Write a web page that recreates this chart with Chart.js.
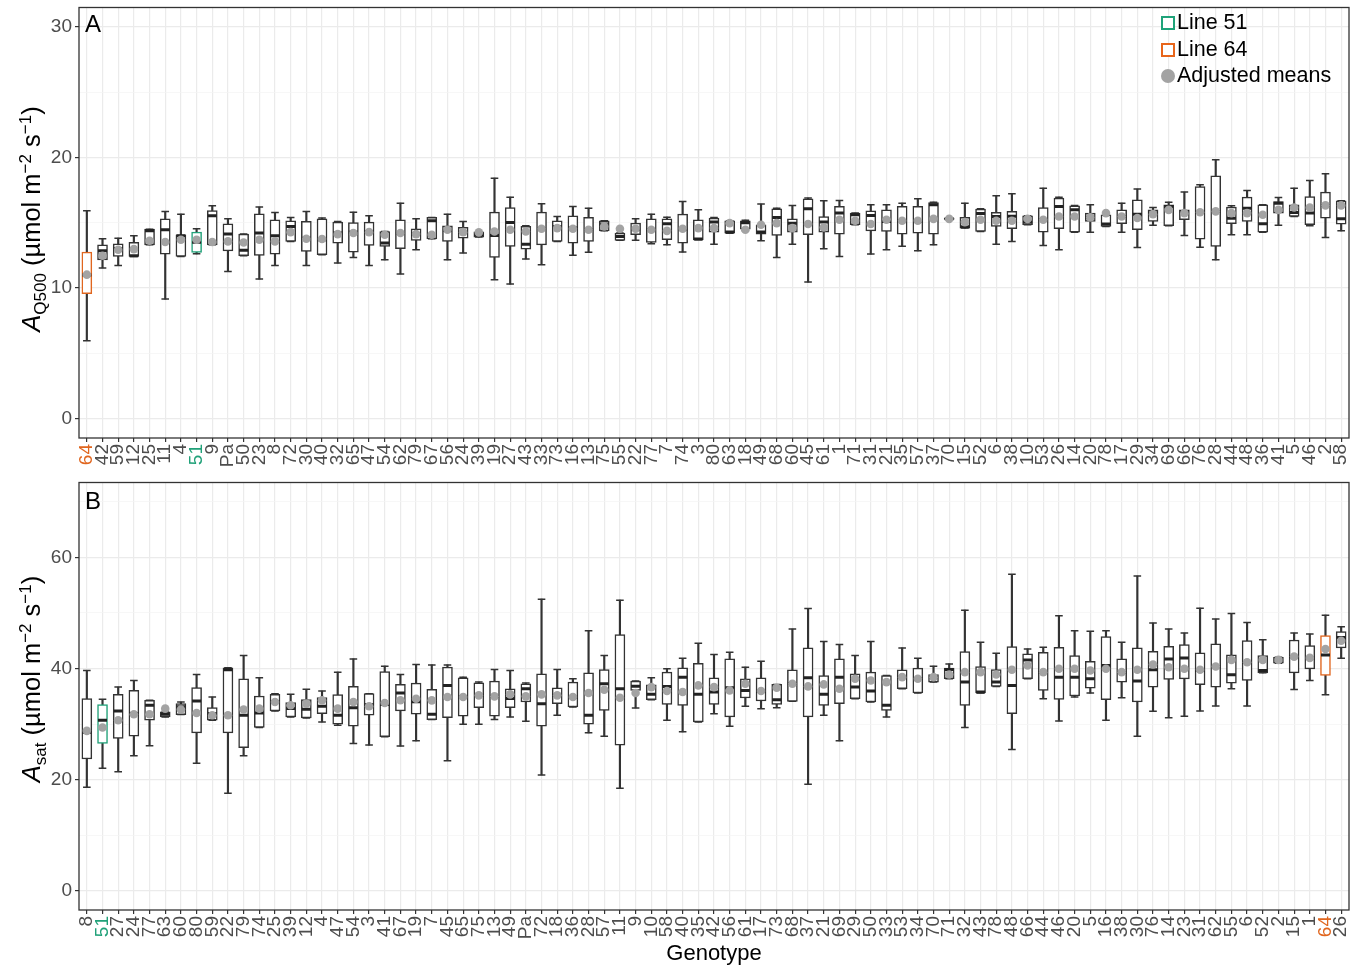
<!DOCTYPE html>
<html><head><meta charset="utf-8">
<script src="https://cdn.jsdelivr.net/npm/chart.js@4.4.1/dist/chart.umd.min.js"></script>
<style>
html,body{margin:0;padding:0;background:#fff;}
#wrap{position:relative;width:1365px;height:967px;overflow:hidden;font-family:'Liberation Sans',Arial,sans-serif;}
canvas{position:absolute;left:0;}
#cA{top:0;}
#cB{top:475px;}
.ytitle{position:absolute;transform:translate(-50%,-50%) rotate(-90deg);white-space:nowrap;font-size:25.5px;color:#000;line-height:1;}
.ytitle sub,.ytitle sup{font-size:17px;line-height:0;}
.tag{position:absolute;font-size:24px;color:#000;line-height:1;}
#legend{position:absolute;left:1161px;top:9px;font-size:21.5px;color:#000;line-height:26.5px;}
#legend .row{position:relative;padding-left:16px;}
#legend .sw{position:absolute;left:0;top:7px;box-sizing:border-box;width:14px;height:14px;background:#fff;border-style:solid;border-width:2px;}
#legend .dot{position:absolute;left:0;top:7px;width:14px;height:14px;border-radius:50%;background:#A3A3A3;}
</style></head>
<body><div id="wrap">
<canvas id="cA" width="1365" height="475"></canvas>
<canvas id="cB" width="1365" height="492"></canvas>
<div class="ytitle" style="left:32px;top:219px;"><i>A</i><sub>Q500</sub> (µmol m<sup>−2</sup> s<sup>−1</sup>)</div>
<div class="ytitle" style="left:32px;top:679px;"><i>A</i><sub>sat</sub> (µmol m<sup>−2</sup> s<sup>−1</sup>)</div>
<div class="tag" style="left:85px;top:12px;">A</div>
<div class="tag" style="left:85px;top:489px;">B</div>
<div id="legend">
<div class="row"><span class="sw" style="border-color:#1FA37A;"></span>Line 51</div>
<div class="row"><span class="sw" style="border-color:#E8651A;"></span>Line 64</div>
<div class="row"><span class="dot"></span>Adjusted means</div>
</div>
</div>
<script>
// ---------- Panel A: A_Q500 ----------
const labelsA = ['64','42','59','12','25','11','4','51','9','Pa','50','23','8','72','30','40','32','65','47','54','62','79','67','56','24','39','19','27','43','33','73','16','13','75','55','22','77','7','74','3','80','63','18','49','68','60','45','61','1','71','31','21','35','57','37','70','15','52','6','38','10','53','26','14','20','78','17','29','34','69','66','76','28','44','48','36','41','5','46','2','58'];
const lowA  = [5.96,11.53,11.73,12.42,13.31,9.15,12.42,12.62,13.31,11.27,12.47,10.68,11.73,13.57,11.73,12.55,11.91,12.34,11.73,12.16,11.07,12.93,13.77,12.16,12.68,13.9,10.63,10.3,12.22,11.78,13.57,12.5,12.73,14.38,13.65,13.65,13.39,13.31,12.75,13.7,13.36,14.2,14.4,13.62,12.34,13.36,10.45,13.01,12.42,14.85,12.6,12.93,13.19,12.85,13.31,15.25,14.59,14.33,13.36,13.57,14.85,13.26,12.93,14.28,14.28,14.72,14.28,13.11,14.8,14.77,14.03,13.13,12.16,14.08,14.08,14.28,14.8,15.48,14.77,13.87,14.38];
const q1A   = [9.56,12.16,12.42,12.42,13.31,12.6,12.42,12.73,13.31,12.85,12.47,12.5,12.6,13.57,12.8,12.55,13.44,12.75,13.26,13.19,13.01,13.65,13.77,13.57,13.82,13.9,12.34,13.19,12.98,13.31,13.57,13.44,13.57,14.38,13.65,14.08,13.49,13.7,13.44,13.7,14.28,14.2,14.5,14.13,14.03,14.28,14.08,14.28,14.13,14.85,14.38,14.33,14.13,14.21,14.13,15.25,14.59,14.33,14.72,14.54,14.85,14.28,14.54,14.28,15.1,14.72,14.92,14.46,15.1,14.77,15.23,13.75,13.19,14.92,15.1,14.28,15.74,15.48,14.85,15.36,14.9];
const medA  = [11.0,12.85,13.01,12.47,14.38,14.46,14.0,13.5,15.53,14.13,12.9,14.21,14.0,14.72,13.82,13.7,14.21,14.28,14.33,13.44,14.2,14.13,15.15,14.4,14.28,14.1,14.03,15.02,13.36,14.54,14.7,14.6,14.46,14.9,13.95,14.5,14.46,14.92,14.5,13.75,15.05,14.3,15.0,14.3,15.4,14.97,16.07,15.05,15.74,15.61,15.56,15.1,15.15,15.1,16.38,15.3,14.7,15.7,15.48,15.5,15.05,15.23,16.25,16.0,15.41,14.9,15.48,15.66,15.74,16.25,15.87,15.81,15.87,15.35,16.12,14.92,16.5,15.79,15.74,16.33,15.3];
const q3A   = [12.75,13.31,13.39,13.49,14.51,15.3,14.08,14.28,15.94,14.92,14.13,15.69,15.23,15.15,15.1,15.3,15.05,15.02,15.05,14.33,15.23,14.54,15.41,14.77,14.64,14.3,15.81,16.17,14.72,15.81,15.15,15.53,15.41,15.15,14.21,14.97,15.3,15.3,15.66,15.23,15.36,15.15,15.15,14.85,16.07,15.3,16.84,15.48,16.25,15.74,15.92,15.99,16.25,16.25,16.55,15.35,15.41,16.04,15.79,15.87,15.53,16.17,16.89,16.3,15.74,15.61,15.99,16.76,15.99,16.38,15.99,17.78,18.6,16.2,16.96,16.38,16.63,16.38,17.01,17.35,16.68];
const highA = [15.92,13.77,13.82,14.0,14.51,15.87,15.66,14.54,16.3,15.3,14.13,16.2,15.79,15.41,15.87,15.36,15.1,15.81,15.53,14.33,16.5,15.3,15.41,15.66,15.1,14.3,18.42,16.96,14.77,16.45,15.48,16.25,16.12,15.15,14.21,15.3,15.66,15.43,16.63,15.99,15.41,15.15,15.2,16.43,16.12,16.32,16.89,16.68,16.71,15.74,16.38,16.38,16.5,16.84,16.58,15.35,16.5,16.07,17.07,17.22,15.53,17.65,16.96,16.32,16.38,15.61,16.5,17.58,16.17,16.58,17.35,17.91,19.82,16.3,17.47,16.38,16.94,17.65,18.24,18.75,16.68];
const meanA = [11.02,12.47,12.93,12.98,13.62,13.52,13.7,13.7,13.52,13.57,13.49,13.7,13.57,14.28,13.77,13.75,14.13,14.21,14.28,14.08,14.21,14.13,14.08,14.46,14.28,14.26,14.33,14.46,14.33,14.54,14.59,14.54,14.46,14.72,14.54,14.54,14.46,14.38,14.54,14.59,14.59,14.97,14.46,14.85,14.97,14.59,14.9,14.64,15.23,15.15,14.9,15.23,15.15,15.15,15.3,15.3,15.05,15.23,15.15,15.15,15.3,15.23,15.48,15.48,15.41,15.74,15.48,15.36,15.66,15.99,15.74,15.81,15.87,15.74,15.74,15.61,15.99,16.17,16.17,16.33,16.33];
const yTicksA = [0, 10, 20, 30];

// ---------- Panel B: A_sat ----------
const labelsB = ['8','51','27','24','77','63','60','80','59','22','79','74','25','39','12','4','47','54','3','41','67','19','7','45','65','75','13','49','Pa','72','18','36','28','57','11','9','10','58','40','35','42','56','61','17','73','68','37','21','69','29','50','33','53','34','70','71','32','43','78','48','66','44','46','20','5','16','38','30','76','14','23','31','62','55','6','52','2','15','1','64','26'];
const lowB  = [18.62,22.02,21.42,24.29,26.08,31.28,31.7,22.92,30.68,17.54,24.29,29.37,32.36,31.28,31.1,30.38,29.79,26.5,26.2,27.7,26.02,26.97,30.8,23.39,29.96,29.96,30.8,31.28,30.5,20.82,31.57,33.07,28.41,27.81,18.43,32.89,34.38,30.68,28.59,30.38,31.87,29.6,33.19,32.77,32.95,34.08,19.15,31.57,26.97,34.56,33.96,31.28,36.35,35.58,37.55,38.15,29.36,35.58,36.77,25.42,38.15,34.56,30.56,34.86,35.57,30.68,34.74,27.81,32.29,31.15,31.39,32.35,33.24,36.35,33.24,39.22,40.95,36.23,37.85,35.28,41.85];
const q1B   = [23.69,26.5,27.4,27.82,30.68,31.28,31.7,28.41,30.68,28.41,25.72,29.37,32.36,31.28,31.1,31.88,29.97,29.61,31.58,27.7,32.36,31.75,30.8,31.16,31.4,32.95,31.4,32.95,33.96,29.6,33.67,33.07,29.96,32.47,26.2,36.05,34.38,33.55,33.37,30.38,33.55,31.28,34.68,34.14,33.55,34.08,31.28,33.37,33.67,34.56,33.96,32.47,36.35,35.58,37.55,38.15,33.37,35.58,36.77,31.87,38.15,36.05,34.44,35.04,36.47,34.38,37.55,33.96,36.65,38.02,38.14,37.07,36.65,37.37,37.85,39.22,40.95,39.22,39.94,38.74,43.7];
const medB  = [28.5,30.68,32.36,31.9,33.37,31.76,33.1,34.15,31.9,39.76,31.58,32.0,34.0,32.8,32.65,33.19,31.58,32.95,33.5,33.5,35.58,34.0,31.75,36.95,34.9,35.2,35.0,34.6,36.35,33.67,35.2,34.8,31.57,37.25,36.35,36.8,35.34,36.77,38.44,35.34,35.76,36.53,36.05,35.9,34.38,37.3,38.32,35.34,38.44,36.65,35.94,33.37,38.4,38.2,38.44,39.82,37.55,35.76,37.55,36.95,41.55,39.3,38.44,38.44,38.14,40.53,39.3,37.73,39.76,41.73,41.91,39.7,40.3,38.86,41.1,39.64,41.55,42.1,41.9,42.44,45.6];
const q3B   = [34.57,33.49,35.34,36.06,34.27,32.18,33.67,36.54,32.95,40.12,38.15,35.04,35.34,33.85,34.39,34.75,35.28,36.78,35.46,39.46,37.14,37.37,36.23,40.24,38.32,37.43,37.73,36.35,37.25,39.04,36.53,37.55,39.22,39.82,46.09,37.73,37.07,39.34,40.12,40.95,38.32,41.73,38.15,38.32,37.13,39.76,43.7,38.74,41.73,39.04,39.34,38.74,39.76,40.06,38.92,40.06,43.04,40.36,39.82,43.94,42.63,42.93,43.82,42.33,41.31,45.73,41.73,43.7,43.1,44.0,44.3,42.8,44.42,42.44,45.01,42.32,42.02,45.13,44.12,45.91,46.63];
const highB = [39.64,34.45,36.66,37.85,34.27,32.18,33.97,38.93,34.87,40.12,42.33,38.33,35.46,35.34,36.24,35.94,39.34,41.73,35.46,40.42,38.93,40.71,40.65,40.65,38.44,37.55,39.82,39.64,37.37,52.48,39.82,38.15,46.81,42.33,52.3,37.73,38.32,39.94,41.85,44.54,42.51,42.92,40.24,41.31,37.13,47.11,50.81,44.84,44.3,42.33,44.84,38.74,43.7,41.85,40.42,40.83,50.51,44.72,42.75,56.96,43.52,43.82,49.49,46.81,46.69,46.81,44.71,56.66,48.18,47.1,46.39,50.87,48.9,49.91,48.3,45.19,42.02,46.39,46.21,49.61,47.52];
const meanB = [28.77,29.37,30.68,31.76,31.76,32.77,32.6,31.99,31.58,31.58,32.6,32.77,33.97,33.37,33.67,34.27,32.77,33.97,33.19,33.79,34.27,34.56,34.26,34.86,34.86,35.16,34.98,35.34,34.98,35.34,35.16,34.86,35.58,36.17,34.74,35.58,36.65,35.94,35.76,36.95,36.65,36.05,37.25,35.94,36.53,37.25,36.77,37.13,36.35,38.15,37.85,37.55,38.44,38.15,38.44,38.92,39.34,39.34,38.92,39.76,40.54,39.34,39.94,39.94,39.64,39.94,39.34,39.76,40.71,40.23,39.94,39.76,40.35,41.55,41.13,41.55,41.55,42.14,41.91,43.52,45.01];
const yTicksB = [0, 20, 40, 60];

// ---------- styling ----------
const FONT = "'Liberation Sans', Arial, sans-serif";
const ORANGE = '#E0661F', GREEN = '#21A179', DARK = '#333333', TICKTXT = '#4D4D4D';
function hl(lab){ return lab === '64' ? ORANGE : (lab === '51' ? GREEN : null); }

const frame = {
  id: 'frame',
  afterDatasetsDraw(chart){
    const {ctx, chartArea:a} = chart;
    ctx.save(); ctx.strokeStyle = DARK; ctx.lineWidth = 1.3;
    ctx.strokeRect(a.left, a.top, a.right - a.left, a.bottom - a.top);
    ctx.restore();
  }
};

function build(id, labels, low, q1, med, q3, high, mean, yTicks, cfg){
  const boxColor = labels.map(l => hl(l) || DARK);
  const tickColor = labels.map(l => hl(l) || TICKTXT);
  const major = yTicks[1] - yTicks[0];
  const step = major / 2;
  const isMajor = v => Math.abs(v % major) < 1e-9;
  return new Chart(document.getElementById(id), {
    type: 'bar',
    data: {
      labels: labels,
      datasets: [
        {type:'bar', data: low.map((v,i)=>[v, high[i]]), backgroundColor: DARK, borderWidth: 0, barThickness: 1.5, grouped: false, order: 6},
        {type:'line', data: high, showLine: false, pointStyle: 'line', pointRadius: 3.8, pointHoverRadius: 3.8, pointBorderWidth: 1.5, pointBorderColor: DARK, order: 5},
        {type:'line', data: low, showLine: false, pointStyle: 'line', pointRadius: 3.8, pointHoverRadius: 3.8, pointBorderWidth: 1.5, pointBorderColor: DARK, order: 5},
        {type:'bar', data: q1.map((v,i)=>[v, q3[i]]), backgroundColor: '#FFFFFF', borderColor: boxColor, borderWidth: 1.5, borderSkipped: false, barThickness: 10, grouped: false, order: 3},
        {type:'line', data: med, showLine: false, pointStyle: 'line', pointRadius: 4.5, pointHoverRadius: 4.5, pointBorderWidth: 3, pointBorderColor: '#222222', order: 2},
        {type:'line', data: mean, showLine: false, pointStyle: 'circle', pointRadius: 4.3, pointHoverRadius: 4.3, pointBackgroundColor: '#A3A3A3', pointBorderWidth: 0, order: 1}
      ]
    },
    options: {
      responsive: false, animation: false, devicePixelRatio: 1,
      layout: {padding: {left: 0, right: 16, top: cfg.top, bottom: 0}},
      plugins: {legend: {display: false}, tooltip: {enabled: false}},
      scales: {
        x: {
          type: 'category', offset: true,
          grid: {offset: false, color: '#EBEBEB', lineWidth: 1.2, tickColor: DARK, tickLength: 4},
          border: {display: false},
          ticks: {autoSkip: false, minRotation: 90, maxRotation: 90, padding: 2,
                  color: c => tickColor[c.index], font: {family: FONT, size: 19}},
          title: {display: !!cfg.xTitle, text: cfg.xTitle || '', color: '#000', font: {family: FONT, size: 22}, padding: {top: 0, bottom: 0}},
          afterFit: s => { s.height = cfg.xHeight; s.paddingLeft = 0; s.paddingRight = 0; }
        },
        y: {
          min: cfg.min, max: cfg.max,
          grid: {color: c => isMajor(c.tick.value) ? '#EBEBEB' : '#F3F3F3',
                 lineWidth: c => isMajor(c.tick.value) ? 1.2 : 0.7,
                 tickColor: c => isMajor(c.tick.value) ? DARK : 'rgba(0,0,0,0)', tickLength: 4},
          border: {display: false},
          ticks: {stepSize: step, includeBounds: false, autoSkip: false, padding: 3, color: TICKTXT,
                  font: {family: FONT, size: 19},
                  callback: v => yTicks.includes(v) ? String(v) : ''},
          afterFit: s => { s.width = 79; s.paddingTop = 0; s.paddingBottom = 0; }
        }
      }
    },
    plugins: [frame]
  });
}

build('cA', labelsA, lowA, q1A, medA, q3A, highA, meanA, yTicksA, {min: -1.5, max: 31.5, top: 7, xHeight: 37});
build('cB', labelsB, lowB, q1B, medB, q3B, highB, meanB, yTicksB, {min: -3.5, max: 73.5, top: 5, xHeight: 57, xTitle: 'Genotype'});
</script>
</body></html>
